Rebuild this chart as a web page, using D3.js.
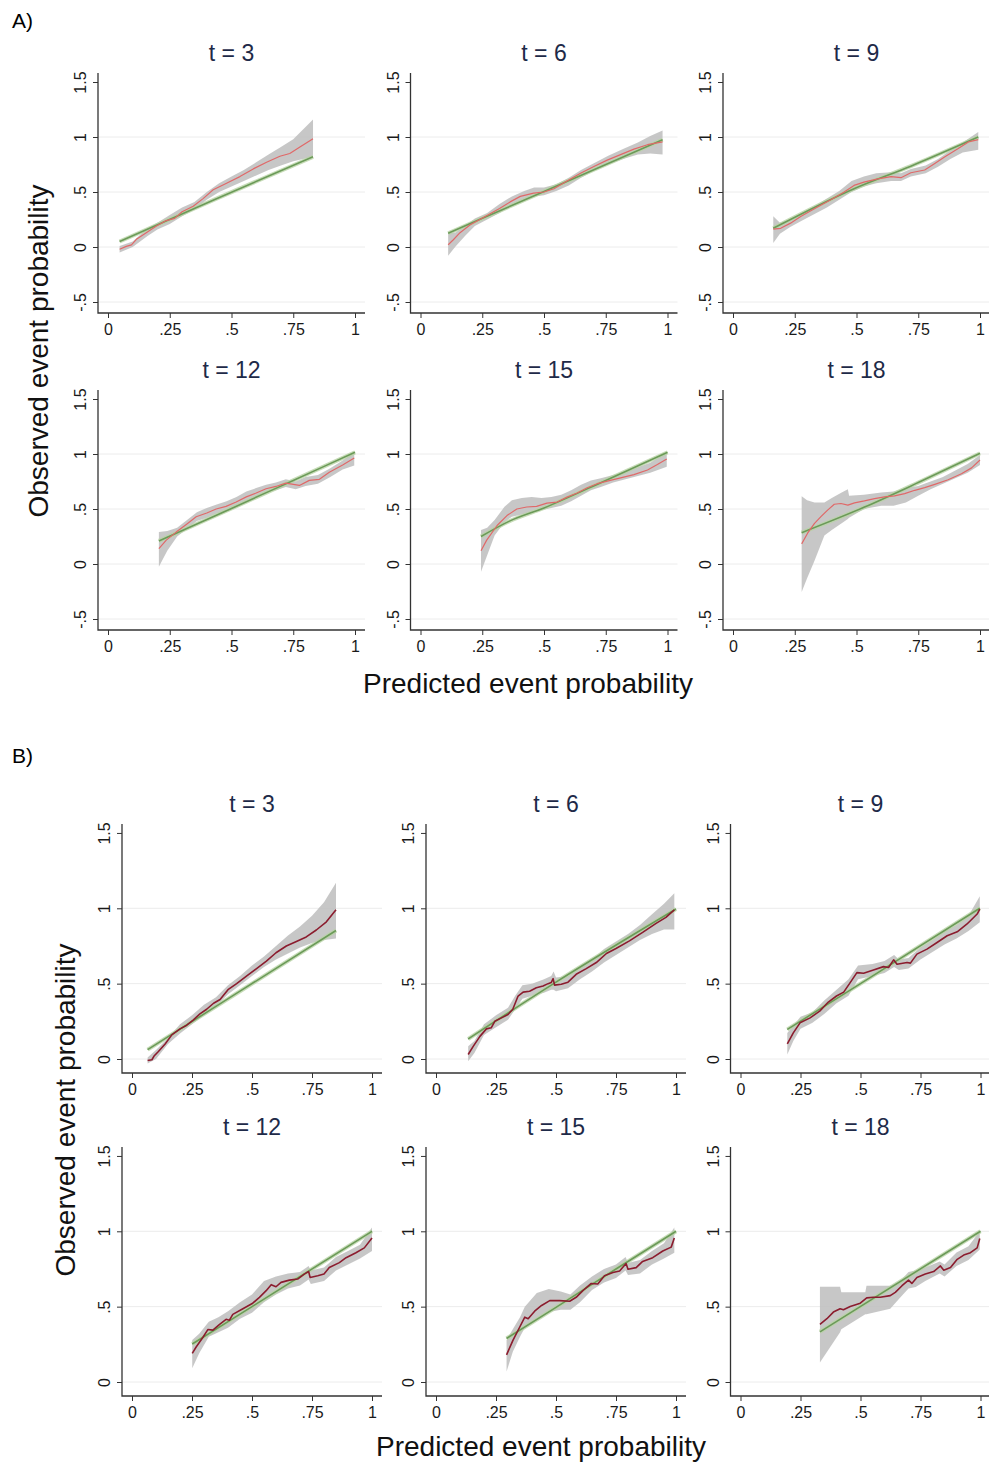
<!DOCTYPE html>
<html><head><meta charset="utf-8">
<script src="https://cdn.jsdelivr.net/npm/d3@7"></script>
<style>
body{margin:0;background:#fff}
text{font-family:"Liberation Sans",Arial,sans-serif}
</style>
</head><body>
<svg id="c" width="989" height="1462"></svg>
<script>
// ---------- tick labels ----------
const xTicks = [0, 0.25, 0.5, 0.75, 1];
const xTickLabels = ["0", ".25", ".5", ".75", "1"];
const yTicksA = [-0.5, 0, 0.5, 1, 1.5];
const yTickLabelsA = ["-.5", "0", ".5", "1", "1.5"];
const yTicksB = [0, 0.5, 1, 1.5];
const yTickLabelsB = ["0", ".5", "1", "1.5"];
const panelTimes = [3, 6, 9, 12, 15, 18];
const xTitle = "Predicted event probability";
const yTitle = "Observed event probability";

// ---------- Section A data: [x, observed] / [x, lower, upper] / [x, fitted] ----------
const a3Obs = [[.047,-.02],[.074,.006],[.095,.02],[.115,.07],[.155,.13],[.196,.19],[.236,.24],[.27,.26],[.30,.32],[.345,.37],[.385,.44],[.426,.52],[.48,.58],[.534,.64],[.588,.71],[.642,.77],[.696,.825],[.736,.85],[.777,.91],[.83,.985]];
const a3Band = [[.047,-.05,.01],[.10,0,.05],[.16,.10,.17],[.20,.16,.22],[.25,.21,.29],[.30,.28,.36],[.35,.34,.41],[.40,.43,.50],[.45,.50,.58],[.50,.55,.64],[.55,.60,.70],[.60,.65,.77],[.65,.70,.84],[.70,.74,.91],[.75,.78,.98],[.83,.82,1.16]];
const a3Fit = [[.047,.05],[.43,.43],[.83,.82]];

const a6Obs = [[.112,.02],[.133,.066],[.16,.13],[.20,.20],[.24,.25],[.28,.30],[.32,.35],[.363,.41],[.404,.46],[.458,.49],[.50,.50],[.54,.53],[.593,.60],[.648,.67],[.70,.73],[.756,.79],[.81,.84],[.864,.89],[.919,.93],[.98,.955]];
const a6Band = [[.112,-.08,.13],[.14,0,.13],[.18,.10,.19],[.22,.19,.26],[.27,.25,.31],[.32,.31,.39],[.37,.38,.46],[.42,.43,.51],[.46,.46,.54],[.50,.47,.54],[.55,.51,.57],[.60,.56,.63],[.65,.63,.70],[.70,.69,.76],[.76,.75,.83],[.82,.80,.89],[.88,.84,.95],[.93,.85,1.01],[.98,.84,1.06]];
const a6Fit = [[.112,.125],[.5,.505],[.98,.975]];

const a9Obs = [[.163,.163],[.193,.17],[.233,.217],[.274,.277],[.315,.33],[.355,.38],[.396,.43],[.45,.50],[.49,.56],[.53,.59],[.586,.62],[.64,.64],[.68,.63],[.72,.675],[.776,.70],[.817,.76],[.858,.82],[.912,.895],[.953,.955],[.993,.976]];
const a9Band = [[.163,.036,.28],[.19,.12,.22],[.23,.18,.25],[.28,.24,.31],[.33,.30,.37],[.38,.36,.44],[.43,.43,.51],[.48,.50,.60],[.53,.55,.64],[.58,.58,.67],[.64,.60,.68],[.68,.60,.67],[.72,.64,.71],[.78,.67,.74],[.83,.73,.80],[.88,.80,.88],[.93,.86,.95],[.993,.885,1.045]];
const a9Fit = [[.163,.17],[.49,.53],[.72,.735],[.993,1.0]];

const a12Obs = [[.206,.14],[.236,.217],[.276,.29],[.317,.36],[.357,.43],[.40,.464],[.438,.50],[.478,.524],[.519,.563],[.56,.61],[.60,.645],[.64,.684],[.68,.705],[.72,.735],[.775,.714],[.815,.76],[.856,.77],[.896,.834],[.95,.90],[.997,.964]];
const a12Band = [[.206,-.024,.29],[.24,.12,.30],[.28,.25,.33],[.32,.32,.40],[.36,.39,.47],[.40,.42,.51],[.44,.46,.54],[.48,.48,.57],[.52,.52,.61],[.56,.57,.66],[.60,.61,.69],[.64,.65,.72],[.68,.67,.74],[.72,.70,.77],[.76,.68,.75],[.80,.71,.79],[.85,.73,.81],[.90,.79,.87],[.95,.86,.94],[.997,.895,1.02]];
const a12Fit = [[.206,.21],[.5,.505],[.75,.76],[1.0,1.015]];

const a15Obs = [[.245,.12],[.268,.217],[.31,.35],[.35,.44],[.39,.50],[.43,.518],[.47,.524],[.512,.554],[.553,.563],[.593,.608],[.634,.645],[.675,.693],[.715,.73],[.756,.753],[.81,.783],[.864,.813],[.919,.855],[.959,.904],[.997,.955]];
const a15Band = [[.245,-.07,.31],[.27,.08,.33],[.30,.26,.40],[.34,.38,.52],[.37,.43,.58],[.41,.45,.60],[.45,.47,.61],[.49,.49,.60],[.53,.51,.61],[.57,.53,.63],[.61,.57,.67],[.65,.62,.72],[.69,.67,.76],[.73,.70,.78],[.78,.74,.81],[.83,.77,.84],[.88,.80,.88],[.93,.83,.92],[.997,.885,1.015]];
const a15Fit = [[.245,.25],[.36,.39],[.5,.51],[.75,.76],[1.0,1.015]];

const a18Obs = [[.278,.183],[.302,.28],[.33,.37],[.356,.43],[.383,.49],[.41,.543],[.437,.55],[.465,.535],[.492,.556],[.532,.574],[.573,.595],[.614,.61],[.654,.62],[.695,.64],[.736,.67],[.776,.694],[.817,.724],[.871,.766],[.925,.82],[.966,.874],[1.0,.946]];
const a18Band = [[.278,-.255,.616],[.30,-.13,.58],[.33,.03,.56],[.37,.26,.56],[.40,.31,.60],[.44,.37,.65],[.465,.41,.68],[.47,.42,.62],[.53,.50,.63],[.60,.53,.65],[.65,.53,.66],[.70,.56,.69],[.75,.62,.71],[.80,.68,.75],[.85,.73,.79],[.90,.78,.85],[.95,.83,.91],[1.0,.90,.99]];
const a18Fit = [[.278,.285],[.53,.515],[.75,.74],[1.0,1.006]];

// ---------- Section B data ----------
const b3Obs = [[.065,-.01],[.083,-.005],[.093,.022],[.11,.05],[.138,.10],[.166,.16],[.20,.20],[.228,.224],[.256,.26],[.283,.30],[.311,.33],[.34,.37],[.367,.395],[.40,.46],[.436,.50],[.477,.55],[.519,.60],[.56,.65],[.60,.705],[.643,.75],[.685,.78],[.726,.81],[.768,.856],[.81,.91],[.85,.99]];
const b3Band = [[.065,-.03,.01],[.10,0,.06],[.15,.10,.14],[.20,.17,.23],[.25,.23,.29],[.30,.29,.36],[.35,.35,.41],[.40,.43,.49],[.45,.49,.55],[.50,.55,.62],[.55,.61,.68],[.60,.66,.75],[.65,.70,.82],[.70,.74,.88],[.75,.77,.95],[.80,.79,1.04],[.85,.80,1.17]];
const b3Fit = [[.065,.062],[.45,.45],[.85,.853]];

const b6Obs = [[.134,.03],[.155,.084],[.183,.15],[.21,.20],[.23,.207],[.245,.25],[.273,.273],[.30,.295],[.32,.33],[.342,.418],[.363,.444],[.39,.45],[.418,.473],[.446,.484],[.467,.50],[.48,.507],[.488,.533],[.494,.49],[.522,.496],[.55,.51],[.584,.562],[.626,.60],[.668,.64],[.71,.70],[.75,.733],[.806,.784],[.861,.84],[.917,.90],[.958,.94],[.993,.99]];
const b6Band = [[.134,-.015,.084],[.16,.04,.12],[.20,.16,.23],[.25,.21,.29],[.30,.26,.34],[.33,.33,.42],[.36,.40,.49],[.40,.42,.50],[.45,.44,.53],[.48,.46,.55],[.49,.46,.58],[.50,.45,.54],[.55,.47,.55],[.60,.53,.61],[.65,.58,.66],[.70,.64,.73],[.75,.69,.78],[.80,.74,.83],[.85,.79,.89],[.90,.83,.96],[.95,.86,1.03],[.993,.86,1.10]];
const b6Fit = [[.134,.133],[.5,.51],[1.0,.995]];

const b9Obs = [[.195,.10],[.22,.173],[.248,.24],[.29,.273],[.33,.318],[.366,.378],[.40,.418],[.43,.444],[.457,.507],[.485,.573],[.513,.569],[.554,.59],[.596,.613],[.617,.607],[.638,.658],[.652,.629],[.694,.64],[.708,.636],[.735,.696],[.777,.729],[.819,.773],[.861,.818],[.903,.844],[.944,.896],[.986,.962],[.997,.995]];
const b9Band = [[.195,.03,.173],[.22,.12,.22],[.25,.20,.28],[.30,.24,.31],[.35,.30,.39],[.40,.37,.46],[.45,.42,.53],[.49,.53,.62],[.55,.55,.63],[.60,.57,.65],[.64,.61,.69],[.66,.59,.66],[.70,.60,.67],[.75,.66,.74],[.80,.71,.79],[.85,.76,.85],[.90,.80,.89],[.95,.85,.95],[.997,.907,1.08]];
const b9Fit = [[.195,.196],[.5,.50],[.997,1.0]];

const b12Obs = [[.251,.19],[.268,.234],[.295,.295],[.316,.348],[.337,.344],[.365,.383],[.392,.416],[.406,.41],[.42,.449],[.462,.486],[.503,.523],[.531,.562],[.559,.606],[.58,.646],[.60,.632],[.621,.661],[.656,.676],[.69,.683],[.718,.716],[.736,.733],[.742,.694],[.774,.705],[.80,.716],[.822,.76],[.864,.792],[.892,.825],[.933,.858],[.968,.89],[1.0,.956]];
const b12Band = [[.251,.092,.278],[.28,.19,.32],[.32,.30,.40],[.36,.33,.43],[.40,.36,.47],[.45,.42,.53],[.50,.46,.58],[.55,.53,.67],[.60,.58,.70],[.65,.62,.72],[.70,.64,.73],[.736,.68,.77],[.745,.65,.74],[.80,.67,.76],[.85,.74,.83],[.90,.78,.87],[.95,.82,.91],[1.0,.869,1.026]];
const b12Fit = [[.251,.252],[.5,.50],[1.0,1.0]];

const b15Obs = [[.294,.18],[.321,.278],[.349,.365],[.37,.43],[.384,.42],[.411,.47],[.44,.508],[.474,.54],[.515,.54],[.557,.536],[.584,.562],[.612,.606],[.647,.654],[.674,.65],[.702,.705],[.737,.726],[.765,.737],[.792,.786],[.80,.748],[.834,.759],[.861,.80],[.903,.825],[.945,.869],[.98,.895],[.993,.956]];
const b15Band = [[.294,.07,.278],[.32,.20,.35],[.35,.30,.43],[.37,.36,.50],[.42,.42,.59],[.47,.464,.617],[.52,.48,.60],[.56,.48,.58],[.60,.53,.64],[.65,.61,.70],[.70,.66,.75],[.75,.69,.78],[.79,.74,.83],[.80,.71,.79],[.85,.72,.81],[.90,.78,.87],[.95,.82,.92],[.993,.858,1.026]];
const b15Fit = [[.294,.289],[.5,.495],[.75,.75],[1.0,1.0]];

const b18Obs = [[.331,.383],[.36,.42],[.387,.464],[.415,.486],[.429,.479],[.457,.501],[.499,.523],[.526,.558],[.554,.562],[.582,.562],[.624,.573],[.645,.595],[.673,.639],[.70,.676],[.714,.654],[.735,.694],[.77,.716],[.805,.733],[.833,.77],[.847,.742],[.875,.759],[.903,.814],[.93,.842],[.958,.858],[.986,.89],[.997,.952]];
const b18Band = [[.331,.129,.632],[.415,.33,.632],[.42,.35,.595],[.52,.45,.595],[.525,.45,.639],[.624,.486,.639],[.66,.55,.66],[.70,.62,.73],[.73,.63,.74],[.77,.67,.76],[.83,.72,.80],[.85,.70,.78],[.90,.77,.86],[.95,.81,.90],[.997,.88,1.0]];
const b18Fit = [[.331,.333],[1.0,1.0]];

// ---------- build panel tables ----------
const obsA = [a3Obs, a6Obs, a9Obs, a12Obs, a15Obs, a18Obs];
const bandA = [a3Band, a6Band, a9Band, a12Band, a15Band, a18Band];
const fitA = [a3Fit, a6Fit, a9Fit, a12Fit, a15Fit, a18Fit];
const obsB = [b3Obs, b6Obs, b9Obs, b12Obs, b15Obs, b18Obs];
const bandB = [b3Band, b6Band, b9Band, b12Band, b15Band, b18Band];
const fitB = [b3Fit, b6Fit, b9Fit, b12Fit, b15Fit, b18Fit];

const svg = d3.select("#c");

function drawSection(cfg) {
  const g = svg.append("g");
  g.append("text").attr("x", 12).attr("y", cfg.letterY).attr("font-size", 21).attr("fill", "#000").text(cfg.letter);
  panelTimes.forEach((t, i) => {
    const col = i % 3, row = Math.floor(i / 3);
    const x0 = cfg.x0s[col];
    const zero = cfg.zeros[row];
    const x = d3.scaleLinear().domain([0, 1]).range([x0, x0 + cfg.w]);
    const y = d3.scaleLinear().domain([0, 1]).range([zero, zero - cfg.unit]);
    const axisX = x0 - 10;
    const rightX = x0 + cfg.w + 10;
    const axisY = cfg.axisBottom(y);
    const topY = y(1.5) - 9;
    const p = g.append("g");

    p.selectAll("line.grid").data(cfg.yTicks.filter(v => v < 1.5)).join("line")
      .attr("x1", axisX).attr("x2", rightX)
      .attr("y1", d => y(d)).attr("y2", d => y(d))
      .attr("stroke", "#ececec").attr("stroke-width", 1);

    const area = d3.area().x(d => x(d[0])).y0(d => y(d[1])).y1(d => y(d[2]));
    p.append("path").datum(cfg.band[i]).attr("d", area)
      .attr("fill", "#bdbdbd").attr("fill-opacity", 0.85);

    const line = d3.line().x(d => x(d[0])).y(d => y(d[1]));
    const fitLine = d3.line().x(d => x(d[0])).y(d => y(d[1])).curve(d3.curveMonotoneX);
    p.append("path").datum(cfg.fit[i]).attr("d", fitLine)
      .attr("fill", "none").attr("stroke", "#b9d3a6").attr("stroke-width", 4).attr("stroke-opacity", 0.8);
    p.append("path").datum(cfg.fit[i]).attr("d", fitLine)
      .attr("fill", "none").attr("stroke", "#6b9a58").attr("stroke-width", 1.6);

    p.append("path").datum(cfg.obs[i]).attr("d", line)
      .attr("fill", "none").attr("stroke", cfg.red).attr("stroke-width", cfg.redW)
      .attr("stroke-linejoin", "round");

    const xa = p.append("g").attr("transform", `translate(0,${axisY})`)
      .call(d3.axisBottom(x).tickValues(xTicks).tickFormat((d, k) => xTickLabels[k]).tickSize(5).tickPadding(6));
    xa.select(".domain").remove();
    xa.selectAll("line").attr("stroke", "#333");
    xa.selectAll("text").attr("font-size", 16).attr("fill", "#1a1a1a")
      .attr("font-family", '"Liberation Sans",Arial,sans-serif');

    const ya = p.append("g").attr("transform", `translate(${axisX},0)`)
      .call(d3.axisLeft(y).tickValues(cfg.yTicks).tickFormat((d, k) => cfg.yLabels[k]).tickSize(5));
    ya.select(".domain").remove();
    ya.selectAll("line").attr("stroke", "#333");
    ya.selectAll("text").attr("font-size", 16).attr("fill", "#1a1a1a")
      .attr("font-family", '"Liberation Sans",Arial,sans-serif')
      .attr("text-anchor", "middle").attr("dy", null)
      .attr("x", 0).attr("y", -12)
      .attr("transform", "rotate(-90)");

    p.append("path")
      .attr("d", `M${axisX},${topY}V${axisY}H${rightX}`)
      .attr("fill", "none").attr("stroke", "#333").attr("stroke-width", 1.3);

    p.append("text").attr("x", x0 + cfg.w / 2).attr("y", zero + cfg.titleOff)
      .attr("text-anchor", "middle").attr("font-size", 23).attr("fill", "#1e2a48")
      .text(`t = ${t}`);
  });

  g.append("text").attr("x", cfg.xTitleX).attr("y", cfg.xTitleY).attr("text-anchor", "middle")
    .attr("font-size", 28).attr("fill", "#111").text(xTitle);
  g.append("text").attr("transform", `translate(${cfg.yTitleX},${cfg.yTitleY}) rotate(-90)`)
    .attr("text-anchor", "middle").attr("font-size", 28).attr("fill", "#111").text(yTitle);
}

drawSection({
  letter: "A)", letterY: 28,
  x0s: [108, 420.5, 733], w: 247,
  zeros: [247, 564], unit: 110,
  axisBottom: y => y(-0.5) + 11,
  yTicks: yTicksA, yLabels: yTickLabelsA,
  obs: obsA, band: bandA, fit: fitA,
  red: "#e06868", redW: 1.2,
  titleOff: -186,
  xTitleX: 528, xTitleY: 693,
  yTitleX: 48, yTitleY: 351
});

drawSection({
  letter: "B)", letterY: 763,
  x0s: [132, 436, 740.5], w: 240,
  zeros: [1059, 1382], unit: 150.7,
  axisBottom: y => y(0) + 14,
  yTicks: yTicksB, yLabels: yTickLabelsB,
  obs: obsB, band: bandB, fit: fitB,
  red: "#8b1c2e", redW: 1.6,
  titleOff: -247,
  xTitleX: 541, xTitleY: 1456,
  yTitleX: 75, yTitleY: 1110
});
</script>
</body></html>
